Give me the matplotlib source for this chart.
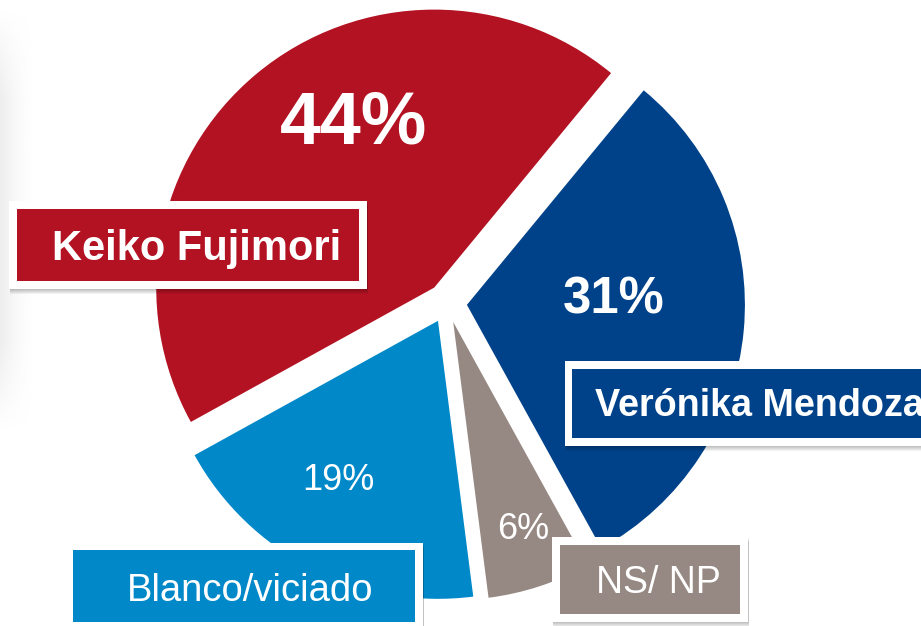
import numpy as np
import matplotlib
matplotlib.use("Agg")
import matplotlib.pyplot as plt
from matplotlib.patches import Rectangle

# data (counter-clockwise from the top-right cut)
candidates = ["Keiko Fujimori", "Blanco/viciado", "NS/ NP", "Verónika Mendoza"]
shares = [44, 19, 6, 31]
pct_labels = ["44%", "19%", "6%", "31%"]

colors = ["#B31222", "#0088C9", "#968882", "#00428A"]
FONT = ["Liberation Sans", "DejaVu Sans"]

W, H = 921, 626
fig = plt.figure(figsize=(W / 100, H / 100), dpi=100)
ax = fig.add_axes([0, 0, 1, 1])


def iy(y):
    # picture row -> data y
    return H - y


# faint page shadow on the left edge
grad = np.ones((200, 40, 4))
grad[..., :3] = 0.80
xs = np.linspace(0, 1, 40)
ys = np.linspace(0, 1, 200)
alpha = (1 - xs) ** 1.6 * 0.35
vert = np.clip(np.sin(np.pi * ys) * 1.6, 0, 1)
grad[..., 3] = vert[:, None] * alpha[None, :]
ax.imshow(grad, extent=(0, 34, iy(430), iy(10)), aspect="auto", zorder=0)

R = 278
wedges, _ = ax.pie(shares, colors=colors, startangle=50.5, counterclock=True,
                   radius=R, center=(447, iy(303)), explode=[20] * 4,
                   wedgeprops=dict(linewidth=0))

# percentage labels
pct_style = [
    dict(x=354, y=144, size=53, weight="bold"),
    dict(x=338, y=490, size=26, weight="normal"),
    dict(x=523, y=539, size=26, weight="normal"),
    dict(x=614, y=314, size=36.5, weight="bold"),
]
for lab, st in zip(pct_labels, pct_style):
    ax.text(st["x"], iy(st["y"]), lab, color="white", fontsize=st["size"],
            fontweight=st["weight"], family=FONT, ha="center", va="baseline",
            zorder=5)


def label_box(outer, inner, color):
    x0, y0, x1, y1 = outer
    # soft drop shadow
    for k in range(1, 6):
        ax.add_patch(Rectangle((x0 + 1, iy(y1 + k)), x1 - x0, (y1 - y0),
                               facecolor="black", alpha=0.05, lw=0, zorder=3))
    ax.add_patch(Rectangle((x0, iy(y1)), x1 - x0, y1 - y0,
                           facecolor="white", lw=0, zorder=3.5))
    a0, b0, a1, b1 = inner
    ax.add_patch(Rectangle((a0, iy(b1)), a1 - a0, b1 - b0,
                           facecolor=color, lw=0, zorder=4))


box_style = [
    dict(outer=(9, 201, 367, 289), inner=(17, 209, 359, 281),
         tx=197, ty=260, size=30, weight="bold", ha="center"),
    dict(outer=(65, 543, 423, 640), inner=(73, 550, 415, 622),
         tx=250, ty=601, size=27.5, weight="normal", ha="center"),
    dict(outer=(552, 537, 748, 622), inner=(560, 545, 740, 614),
         tx=658, ty=593, size=27, weight="normal", ha="center"),
    dict(outer=(565, 361, 940, 446), inner=(572, 369, 935, 438),
         tx=595, ty=416, size=27.2, weight="bold", ha="left"),
]
for name, col, st in zip(candidates, colors, box_style):
    label_box(st["outer"], st["inner"], col)
    ax.text(st["tx"], iy(st["ty"]), name, color="white", fontsize=st["size"],
            fontweight=st["weight"], family=FONT, ha=st["ha"], va="baseline",
            zorder=5)

ax.set_xlim(0, W)
ax.set_ylim(0, H)
ax.set_aspect("equal")
ax.axis("off")
fig.savefig("out.png", dpi=100)
